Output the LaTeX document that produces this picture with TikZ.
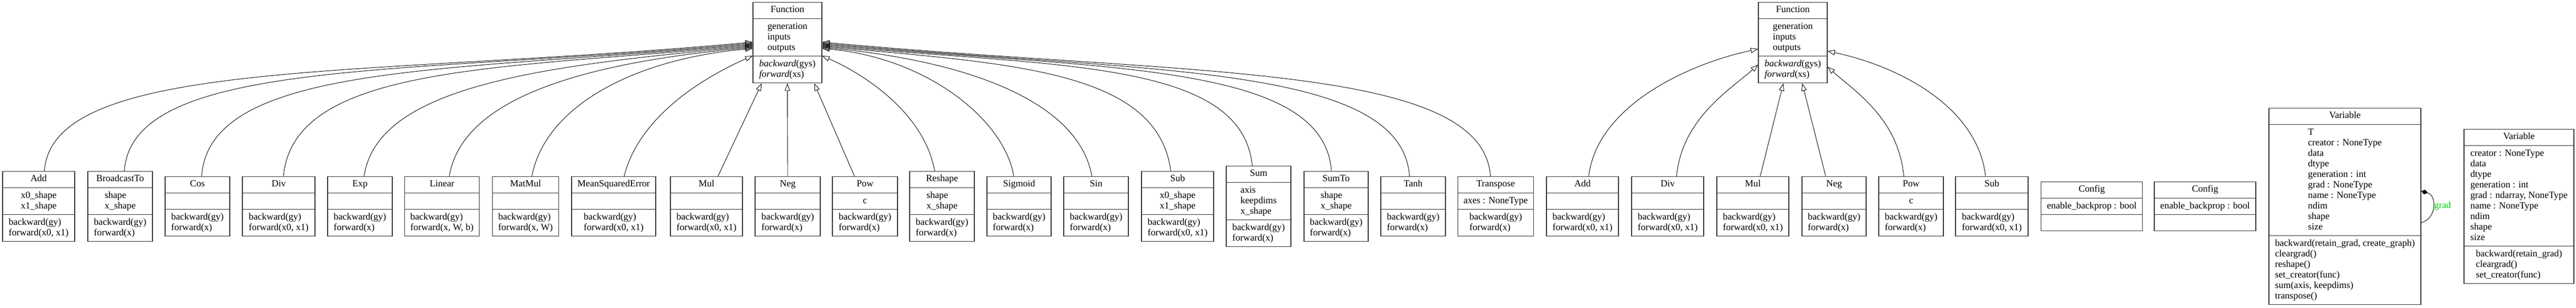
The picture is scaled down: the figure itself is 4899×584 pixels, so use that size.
\documentclass[tikz,border=0pt]{standalone}
\usepackage{fontspec}
\setmainfont{Liberation Serif}
\usetikzlibrary{shapes.multipart,arrows.meta}
\definecolor{gradgreen}{RGB}{0,205,0}

\begin{document}
\begin{tikzpicture}[x=1pt,y=-1pt,
    cls/.style={rectangle split, rectangle split parts=3, draw=black!80, line width=1.2pt,
      align=left, font=\fontsize{18}{20}\selectfont, inner xsep=11pt, inner ysep=5pt},
    gen/.style={line width=0.9pt, -{Triangle[open,length=14pt,width=10pt]}},
    comp/.style={line width=0.9pt, {Diamond[length=13pt,width=9pt]}-}]
    \useasboundingbox (0,0) rectangle (4899,584);
    \def\ops{73.5/137/Add/{x0\_shape\\x1\_shape}/{backward(gy)\\forward(x0, x1)},
      228.5/123/BroadcastTo/{shape\\x\_shape}/{backward(gy)\\forward(x)},
      375.5/123/Cos/{}/{backward(gy)\\forward(x)},
      530/138/Div/{}/{backward(gy)\\forward(x0, x1)},
      684.5/123/Exp/{}/{backward(gy)\\forward(x)},
      840.5/141/Linear/{}/{backward(gy)\\forward(x, W, b)},
      999.5/125/MatMul/{}/{backward(gy)\\forward(x, W)},
      1167/156/MeanSquaredError/{}/{backward(gy)\\forward(x0, x1)},
      1343.5/137/Mul/{}/{backward(gy)\\forward(x0, x1)},
      1498/124/Neg/{}/{backward(gy)\\forward(x)},
      1645/124/Pow/{c}/{backward(gy)\\forward(x)},
      1791.5/123/Reshape/{shape\\x\_shape}/{backward(gy)\\forward(x)},
      1938/122/Sigmoid/{}/{backward(gy)\\forward(x)},
      2084.5/123/Sin/{}/{backward(gy)\\forward(x)},
      2239.5/137/Sub/{x0\_shape\\x1\_shape}/{backward(gy)\\forward(x0, x1)},
      2393.5/123/Sum/{axis\\keepdims\\x\_shape}/{backward(gy)\\forward(x)},
      2541/122/SumTo/{shape\\x\_shape}/{backward(gy)\\forward(x)},
      2687.5/123/Tanh/{}/{backward(gy)\\forward(x)},
      2844.5/143/Transpose/{axes : NoneType}/{backward(gy)\\forward(x)},
      3009.5/137/Add/{}/{backward(gy)\\forward(x0, x1)},
      3171.5/137/Div/{}/{backward(gy)\\forward(x0, x1)},
      3333.5/137/Mul/{}/{backward(gy)\\forward(x0, x1)},
      3488/122/Neg/{}/{backward(gy)\\forward(x)},
      3634.5/123/Pow/{c}/{backward(gy)\\forward(x)},
      3788/138/Sub/{}/{backward(gy)\\forward(x0, x1)},
      3978/192/Config/{enable\_backprop : bool}/{},
      4193.5/193/Config/{enable\_backprop : bool}/{}}
    %  c1..c19 -> f1,  c20..c25 -> f2,  c26 c27 config
    \foreach \x/\w/\nm/\attr/\meth [count=\i from 1] in \ops {\node[cls, minimum width=\w pt] (c\i) at (\x,392)
      {\strut\nm\nodepart{second}\strut\attr\strut\nodepart{third}\strut\meth\strut};}
    \node[cls, minimum width=131pt] (f1) at (1497.5,81) {\strut Function\nodepart{second}\strut generation\\inputs\\outputs\strut
      \nodepart{third}\strut\textit{backward}(gys)\\\textit{forward}(xs)\strut};
    \node[cls, minimum width=131pt] (f2) at (3409.5,81) {\strut Function\nodepart{second}\strut generation\\inputs\\outputs\strut
      \nodepart{third}\strut\textit{backward}(gys)\\\textit{forward}(xs)\strut};
    \node[cls, minimum width=289pt] (v1) at (4459.5,392) {\strut Variable\nodepart{second}\strut T\\creator : NoneType\\data\\dtype\\generation : int\\grad : NoneType\\name : NoneType\\ndim\\shape\\size\strut
      \nodepart{third}\strut backward(retain\_grad, create\_graph)\\cleargrad()\\reshape()\\set\_creator(func)\\sum(axis, keepdims)\\transpose()\strut};
    \node[cls, minimum width=209pt] (v2) at (4790.5,392) {\strut Variable\nodepart{second}\strut creator : NoneType\\data\\dtype\\generation : int\\grad : ndarray, NoneType\\name : NoneType\\ndim\\shape\\size\strut
      \nodepart{third}\strut backward(retain\_grad)\\cleargrad()\\set\_creator(func)\strut};
    % inheritance, left and right bundles of f1
    \foreach \i/\sx/\ty/\ax/\ay/\bx/\by in {1/11/1/15/-215/-741/67, 2/8/-1/15/-215/-657/60, 3/8/-3/15/-215/-577/52,
      4/9/-5/20/-210/-491/45, 5/8/-7/25/-170/-407/37, 6/14/-9/25/-150/-318/29, 7/12/-11/25/-130/-232/21}
      {\draw[gen] ([xshift=\sx pt]c\i.north) .. controls +(\ax,\ay) and +(\bx,\by) .. ([yshift=\ty pt]f1.west);}
    \foreach \i/\sx/\ty/\ax/\ay/\bx/\by in {13/-10/-11/-18/-107/200/18, 14/-8/-9/-25/-140/282/26, 15/-13/-7/-25/-190/365/33,
      16/-12/-5/-20/-200/450/41, 17/-9/-3/-15/-207/533/48, 18/-7/-1/-15/-215/614/56, 19/-10/1/-15/-215/699/64}
      {\draw[gen] ([xshift=\sx pt]c\i.north) .. controls +(\ax,\ay) and +(\bx,\by) .. ([yshift=\ty pt]f1.east);}
    \draw[gen] ([xshift=20pt]c8.north) .. controls +(30,-120) and +(-80,35) .. ([yshift=-25pt]f1.west);
    \draw[gen] ([xshift=22pt]c9.north) -- ([xshift=-49pt]f1.south);
    \draw[gen] (c10.north) -- (f1.south);
    \draw[gen] ([xshift=-20pt]c11.north) -- ([xshift=51pt]f1.south);
    \draw[gen] ([xshift=-14pt]c12.north) .. controls +(-20,-110) and +(80,35) .. ([yshift=-25pt]f1.east);
    % inheritance to f2
    \draw[gen] ([xshift=12pt]c20.north) .. controls +(15,-130) and +(-140,30) .. ([yshift=-12pt]f2.west);
    \draw[gen] ([xshift=17pt]c21.north) .. controls +(10,-110) and +(-50,45) .. ([yshift=-42pt]f2.west);
    \draw[gen] ([xshift=14pt]c22.north) -- ([xshift=-18pt]f2.south);
    \draw[gen] ([xshift=-16pt]c23.north) -- ([xshift=18pt]f2.south);
    \draw[gen] ([xshift=-14pt]c24.north) .. controls +(-10,-110) and +(50,45) .. ([yshift=-46pt]f2.east);
    \draw[gen] ([xshift=-12pt]c25.north) .. controls +(-15,-130) and +(140,30) .. ([yshift=-16pt]f2.east);
    % grad loop
    \draw[comp] ([yshift=29pt]v1.east) .. controls +(30,8) and +(30,-8) .. ([yshift=-31pt]v1.east);
    \node[font=\fontsize{18}{20}\selectfont, text=gradgreen, anchor=west, inner sep=0pt] (gradlbl) at (4629,391) {grad};
  \end{tikzpicture}
\end{document}
